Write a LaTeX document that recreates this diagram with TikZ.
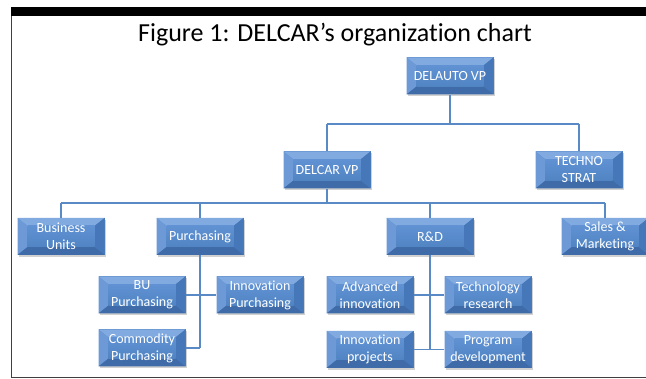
\documentclass[tikz,border=0pt]{standalone}
\usepackage{fontspec}
\setmainfont{Carlito}[Ligatures=NoCommon]
\usetikzlibrary{calc,shadows}
\definecolor{bxmid}{HTML}{4F81BD}
\definecolor{bxtop}{HTML}{80AAE0}
\definecolor{bxleft}{HTML}{6D9AD6}
\definecolor{bxright}{HTML}{4677B8}
\definecolor{bxbot}{HTML}{3F6BA8}
\definecolor{bxcenA}{HTML}{6092D3}
\definecolor{bxcenB}{HTML}{5184C3}
\definecolor{lnk}{HTML}{5A8AC6}
\tikzset{
  orgbox/.style={rectangle, minimum width=87pt, minimum height=37pt, inner sep=0pt,
    align=center, text=white, font=\fontsize{14}{17}\selectfont, fill=bxmid,
    drop shadow={shadow xshift=1.5pt, shadow yshift=-2pt, opacity=0.3, fill=black!60},
    path picture={
      \coordinate (pnw) at (path picture bounding box.north west);
      \coordinate (pne) at (path picture bounding box.north east);
      \coordinate (psw) at (path picture bounding box.south west);
      \coordinate (pse) at (path picture bounding box.south east);
      \coordinate (inw) at ($(pnw)+(10pt,-8pt)$);
      \coordinate (ine) at ($(pne)+(-10pt,-8pt)$);
      \coordinate (isw) at ($(psw)+(10pt,8pt)$);
      \coordinate (ise) at ($(pse)+(-10pt,8pt)$);
      \fill[bxtop] (pnw) -- (pne) -- (ine) -- (inw) -- cycle;
      \fill[bxleft] (pnw) -- (inw) -- (isw) -- (psw) -- cycle;
      \fill[bxright] (pne) -- (ine) -- (ise) -- (pse) -- cycle;
      \fill[bxbot] (psw) -- (isw) -- (ise) -- (pse) -- cycle;
      \shade[top color=bxcenA, bottom color=bxcenB] (inw) rectangle (ise);
    }},
  link/.style={draw=lnk, line width=1.5pt}
}
\begin{document}
\begin{tikzpicture}[x=1pt,y=-1pt]
\useasboundingbox (0,0) rectangle (646,379);
\begin{scope}
\clip (0,0) rectangle (646,379);
% frame
\fill[black] (11,7) rectangle (646,16);
\draw[black!75, line width=1.5pt] (11.5,16) -- (11.5,377.5) -- (646,377.5);
% title
\node[font=\fontsize{26}{30}\selectfont] (title) at (335,35) {Figure 1: DELCAR’s organization chart};
% junction coordinates
\coordinate (j1) at (450,124);
\coordinate (j2) at (327,203);
% nodes
\node[orgbox] (delauto) at (450,76) {DELAUTO VP};
\node[orgbox] (delcar) at (327,170) {DELCAR VP};
\node[orgbox] (techno) at (579,170) {TECHNO\\STRAT};
\node[orgbox] (bu) at (61,236.5) {Business\\Units};
\node[orgbox] (purch) at (200,236.5) {Purchasing};
\node[orgbox] (rd) at (430,236.5) {R\&D};
\node[orgbox] (sales) at (605,236.5) {Sales \&\\Marketing};
\node[orgbox] (bup) at (142,295) {BU\\Purchasing};
\node[orgbox] (inp) at (260,295) {Innovation\\Purchasing};
\node[orgbox] (comp) at (142,348) {Commodity\\Purchasing};
\node[orgbox] (adv) at (370,295) {Advanced\\innovation};
\node[orgbox] (tech) at (488,295) {Technology\\research};
\node[orgbox] (inproj) at (370,349.5) {Innovation\\projects};
\node[orgbox] (prog) at (488,349.5) {Program\\development};
% connectors
\path[link] (delauto.south) -- (j1);
\path[link] (j1 -| delcar.north) -- (j1 -| techno.north);
\path[link] (j1 -| delcar.north) -- (delcar.north);
\path[link] (j1 -| techno.north) -- (techno.north);
\path[link] (delcar.south) -- (j2);
\path[link] (j2 -| bu.north) -- (j2 -| sales.north);
\path[link] (j2 -| bu.north) -- (bu.north);
\path[link] (j2 -| purch.north) -- (purch.north);
\path[link] (j2 -| rd.north) -- (rd.north);
\path[link] (j2 -| sales.north) -- (sales.north);
\path[link] (purch.south) -- (purch.south |- comp.east);
\path[link] (bup.east) -- (inp.west);
\path[link] (comp.east) -- (purch.south |- comp.east);
\path[link] (rd.south) -- (rd.south |- inproj.east);
\path[link] (adv.east) -- (tech.west);
\path[link] (inproj.east) -- (prog.west);
\end{scope}
\end{tikzpicture}
\end{document}
